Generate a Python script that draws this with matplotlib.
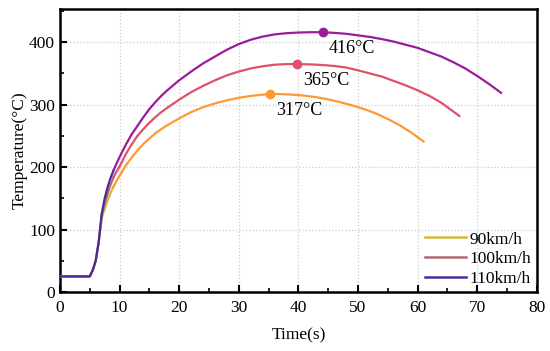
import matplotlib
matplotlib.use('Agg')
import matplotlib.pyplot as plt
from matplotlib.lines import Line2D
import numpy as np

#----------------------
# Dados
#----------------------
time_90 = [0, 5, 5.5, 6, 6.5, 7, 7.5, 8, 8.5, 9, 9.5, 10, 11, 12, 13, 14, 15, 16, 17, 18,
           20, 22, 24, 26, 28, 30, 32, 34, 35.3, 37, 39, 41, 43, 45, 47, 49, 51, 53, 55,
           57, 59, 61]
temp_90 = [25, 25, 35, 50, 80, 118, 133, 147, 159, 169, 178, 186, 202, 215, 227, 237, 246,
           254, 261, 267, 278, 288, 296, 302, 307, 311, 314, 316, 317, 317, 316, 314.5, 312,
           308.5, 304, 299, 293, 286, 277, 267, 255, 241]

time_100 = [0, 5, 5.5, 6, 6.5, 7, 7.5, 8, 8.5, 9, 9.5, 10, 11, 12, 13, 14, 15, 16, 17, 18,
            20, 22, 24, 26, 28, 30, 32, 34, 36, 38, 39.8, 42, 44, 46, 48, 50, 52, 54, 56,
            58, 60, 62, 64, 66, 67]
temp_100 = [25, 25, 35, 50, 80, 122, 142, 158, 172, 184, 193, 201, 220, 236, 250, 261, 271,
            280, 288, 295, 308, 320, 330, 339, 347, 353, 358, 361.5, 364, 365, 365, 364.5,
            363.5, 362, 359.5, 355, 350, 345, 338, 331, 323, 314, 303, 289, 282]

time_110 = [0, 5, 5.5, 6, 6.5, 7, 7.5, 8, 8.5, 9, 9.5, 10, 11, 12, 13, 14, 15, 16, 17, 18,
            20, 22, 24, 26, 28, 30, 32, 34, 36, 38, 40, 42, 44.1, 46, 48, 50, 52, 54, 56,
            58, 60, 62, 64, 66, 68, 70, 72, 74]
temp_110 = [25, 25, 35, 50, 80, 125, 150, 168, 183, 195, 206, 216, 235, 252, 266, 280, 293,
            304, 314, 323, 339, 353, 366, 377, 388, 397, 404, 409, 412.5, 414.5, 415.5, 416,
            416, 415, 413.5, 411, 408.5, 405, 401, 396, 391, 384, 377, 368, 358, 346, 333,
            319]

labels = ['90km/h', '100km/h', '110km/h']
peak_t = [35.3, 39.8, 44.1]
peak_T = [317, 365, 416]

cores_legenda = ['#d4b83a', '#b06b70', '#4b2a9a']
cores_curva = ['#ff9933', '#e0506a', '#9b1b9b']

plt.rcParams['font.family'] = ['Liberation Serif', 'DejaVu Serif']
plt.rcParams['font.size'] = 12

fig, ax = plt.subplots(figsize=(5.5, 3.51), dpi=100)
fig.subplots_adjust(left=0.109, right=0.976, top=0.974, bottom=0.168)

series = [(time_90, temp_90), (time_100, temp_100), (time_110, temp_110)]
for i, (t, T) in enumerate(series):
    t = np.array(t)
    T = np.array(T)
    ini = t <= 9
    fim = t >= 9
    ax.plot(t[ini], T[ini], color=cores_legenda[i], lw=1.6, zorder=3 + i)
    ax.plot(t[fim], T[fim], color=cores_curva[i], lw=1.6, zorder=3 + i)
    ax.plot(peak_t[i], peak_T[i], 'o', color=cores_curva[i], ms=6, zorder=6)
    ax.annotate('%d°C' % peak_T[i], (peak_t[i], peak_T[i]), xytext=(4, -12),
                textcoords='offset points', ha='left', va='center', fontsize=13)

ax.set_xlim(0, 80)
ax.set_ylim(0, 453)
ax.set_xticks(np.arange(0, 81, 10))
ax.set_xticks(np.arange(5, 80, 10), minor=True)
ax.set_yticks(np.arange(0, 401, 100))
ax.set_yticks(np.arange(50, 451, 100), minor=True)
ax.tick_params(which='major', direction='in', length=5, width=1.5, labelsize=12.5)
ax.tick_params(axis='x', which='major', pad=6)
ax.tick_params(which='minor', direction='in', length=3, width=1.2)
for s in ax.spines.values():
    s.set_linewidth(1.8)
ax.grid(True, which='major', color='#cccccc', ls=':', lw=0.9)
ax.set_axisbelow(True)

ax.set_xlabel('Time(s)', fontsize=12.5, labelpad=8)
ax.set_ylabel('Temperature(°C)', fontsize=12.5, labelpad=1)

handles = [Line2D([], [], color=c, lw=1.8) for c in cores_legenda]
ax.legend(handles, labels, loc='lower right', frameon=False, fontsize=12.5,
          handlelength=2.4, handletextpad=0.2, labelspacing=0.2,
          borderaxespad=0.2, borderpad=0.1)

plt.savefig('out.png', dpi=100)
